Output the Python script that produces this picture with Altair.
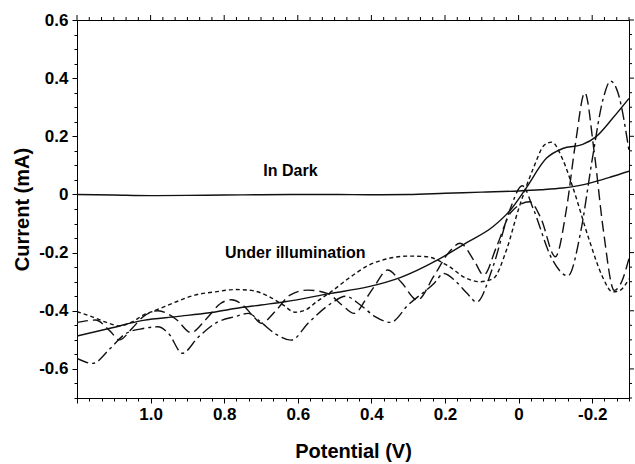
import altair as alt
import pandas as pd

# ---------------- data ----------------
dark_x = [1.2, 1.1, 1.0, 0.9, 0.8, 0.7, 0.6, 0.5, 0.4, 0.3, 0.2, 0.1, 0.0, -0.06, -0.12, -0.17, -0.21, -0.25, -0.3]
dark_y = [0.0, -0.002, -0.004, -0.003, -0.002, -0.001, 0.0, 0.0, -0.001, 0.0, 0.004, 0.008, 0.012, 0.016, 0.022, 0.032, 0.045, 0.06, 0.08]

ill_x = [1.2, 1.11, 1.02, 0.93, 0.84, 0.77, 0.70, 0.635, 0.51, 0.41, 0.32, 0.22, 0.14, 0.07, 0.02, -0.02, -0.076, -0.12, -0.174, -0.21, -0.255, -0.3]
ill_y = [-0.487, -0.46, -0.433, -0.42, -0.407, -0.392, -0.38, -0.369, -0.34, -0.318, -0.285, -0.225, -0.165, -0.111, -0.05, 0.021, 0.125, 0.158, 0.172, 0.198, 0.261, 0.33]

a_x = [1.2, 1.16, 1.12, 1.085, 1.05, 1.02, 0.986, 0.93, 0.88, 0.824, 0.77, 0.726, 0.68, 0.64, 0.608, 0.58, 0.55, 0.51, 0.456, 0.41, 0.36, 0.30, 0.25, 0.195, 0.141, 0.105, 0.069, 0.033, 0.0, -0.04, -0.07, -0.09, -0.12, -0.147, -0.192, -0.228, -0.255, -0.275, -0.3]
a_y = [-0.403, -0.42, -0.44, -0.452, -0.438, -0.415, -0.398, -0.369, -0.346, -0.335, -0.327, -0.33, -0.35, -0.38, -0.405, -0.398, -0.37, -0.335, -0.283, -0.245, -0.222, -0.212, -0.214, -0.243, -0.289, -0.30, -0.289, -0.191, -0.05, 0.09, 0.17, 0.18, 0.12, 0.026, -0.157, -0.283, -0.335, -0.33, -0.29]

b_x = [1.2, 1.15, 1.11, 1.085, 1.05, 1.02, 0.98, 0.93, 0.89, 0.85, 0.81, 0.78, 0.75, 0.72, 0.70, 0.66, 0.62, 0.573, 0.52, 0.48, 0.447, 0.41, 0.39, 0.356, 0.32, 0.275, 0.23, 0.19, 0.159, 0.12, 0.095, 0.06, 0.02, -0.03, -0.06, -0.10, -0.13, -0.155, -0.18, -0.205, -0.23, -0.26, -0.28, -0.3]
b_y = [-0.44, -0.432, -0.47, -0.50, -0.46, -0.42, -0.40, -0.43, -0.475, -0.43, -0.375, -0.362, -0.38, -0.42, -0.443, -0.40, -0.345, -0.329, -0.34, -0.38, -0.409, -0.35, -0.312, -0.26, -0.30, -0.363, -0.28, -0.20, -0.168, -0.23, -0.277, -0.18, -0.06, -0.025, -0.08, -0.214, -0.05, 0.18, 0.35, 0.15, -0.12, -0.33, -0.30, -0.22]

c_x = [1.2, 1.157, 1.11, 1.067, 1.02, 0.98, 0.95, 0.914, 0.87, 0.82, 0.77, 0.735, 0.70, 0.66, 0.618, 0.57, 0.51, 0.47, 0.43, 0.39, 0.348, 0.30, 0.23, 0.203, 0.17, 0.14, 0.114, 0.07, 0.024, -0.01, -0.04, -0.09, -0.134, -0.17, -0.2, -0.23, -0.25, -0.27, -0.3]
c_y = [-0.564, -0.581, -0.53, -0.478, -0.461, -0.455, -0.48, -0.546, -0.49, -0.44, -0.42, -0.409, -0.44, -0.48, -0.501, -0.44, -0.375, -0.35, -0.38, -0.42, -0.44, -0.38, -0.306, -0.272, -0.30, -0.34, -0.37, -0.25, -0.054, 0.03, -0.05, -0.22, -0.28, -0.12, 0.12, 0.33, 0.39, 0.35, 0.15]

label_text = ["In Dark", "Under illumination"]
label_x = [0.62, 0.607]
label_y = [0.08, -0.202]

x_ticks = [round(k / 30, 6) for k in range(-9, 37)]
y_ticks = [round(k / 20, 6) for k in range(-14, 13)]
x_major = [v for v in x_ticks if abs(v * 5 - round(v * 5)) < 1e-6]
x_minor = [v for v in x_ticks if v not in x_major]
y_major = [v for v in y_ticks if abs(v * 5 - round(v * 5)) < 1e-6]
y_minor = [v for v in y_ticks if v not in y_major]

# ---------------- chart ----------------
FONT = "Liberation Sans"
major = "abs(datum.value*5 - round(datum.value*5)) < 0.001"
num = "(abs(datum.value) < 0.001 ? '0' : (datum.value < 0 ? '-' : '') + format(abs(datum.value), '.1f'))"
lab_x = "(" + major + ") && datum.value < 1.1 ? " + num + " : ''"
lab_y = "(" + major + ") ? " + num + " : ''"
tsize = {"condition": {"test": major, "value": 5}, "value": 3}

xscale = alt.Scale(domain=[-0.3, 1.2], reverse=True, nice=False, zero=False)
yscale = alt.Scale(domain=[-0.7, 0.6], nice=False, zero=False)

ax_bottom = alt.Axis(values=x_ticks, labelExpr=lab_x, tickSize=tsize, grid=False,
                     labelFont=FONT, labelFontSize=17, labelFontWeight="bold", labelColor="black",
                     labelPadding=3, labelOverlap=False, labelFlush=False,
                     domainColor="black", tickColor="black",
                     titleFont=FONT, titleFontSize=20, titleFontWeight="bold", titleColor="black",
                     titleY=53, titleBaseline="middle")
ax_left = alt.Axis(values=y_ticks, labelExpr=lab_y, tickSize=tsize, grid=False,
                   labelFont=FONT, labelFontSize=17, labelFontWeight="bold", labelColor="black",
                   labelPadding=4, labelOverlap=False, labelFlush=False,
                   domainColor="black", tickColor="black",
                   titleFont=FONT, titleFontSize=20, titleFontWeight="bold", titleColor="black",
                   titleX=-55, titleY=189, titleBaseline="middle")

X = alt.X("x:Q", scale=xscale, axis=ax_bottom, title="Potential (V)")
Y = alt.Y("y:Q", scale=yscale, axis=ax_left, title="Current (mA)")


def curve(xs, ys, dash=None):
    df = pd.DataFrame({"x": xs, "y": ys})
    kw = dict(color="#111111", strokeWidth=1.4, interpolate="monotone", clip=True)
    if dash:
        kw["strokeDash"] = dash
    return alt.Chart(df).mark_line(**kw).encode(x=X, y=Y)


def top_ticks(vals, size):
    df = pd.DataFrame({"x": vals})
    return alt.Chart(df).mark_rule(color="black", strokeWidth=1).encode(
        x=X, y=alt.value(0), y2=alt.value(-size))


def right_ticks(vals, size):
    df = pd.DataFrame({"y": vals})
    return alt.Chart(df).mark_rule(color="black", strokeWidth=1).encode(
        y=Y, x=alt.value(552), x2=alt.value(552 + size))


labels_df = pd.DataFrame({"x": label_x, "y": label_y, "t": label_text})
texts = alt.Chart(labels_df).mark_text(font=FONT, fontSize=16, fontWeight="bold", color="black",
                                       align="center", baseline="middle").encode(x=X, y=Y, text="t:N")

chart = alt.layer(
    curve(dark_x, dark_y),
    curve(ill_x, ill_y),
    curve(a_x, a_y, [4, 3]),
    curve(b_x, b_y, [11, 5]),
    curve(c_x, c_y, [12, 4, 3, 4]),
    texts,
    top_ticks(x_major, 5),
    top_ticks(x_minor, 3),
    right_ticks(y_major, 5),
    right_ticks(y_minor, 3),
).properties(
    width=552, height=378,
    padding={"left": 77, "top": 20, "right": 6, "bottom": 66},
    autosize="none",
    background="white",
).configure_view(stroke="black", strokeWidth=1)

chart.save("out.html", embed_options={"renderer": "svg", "actions": False})
